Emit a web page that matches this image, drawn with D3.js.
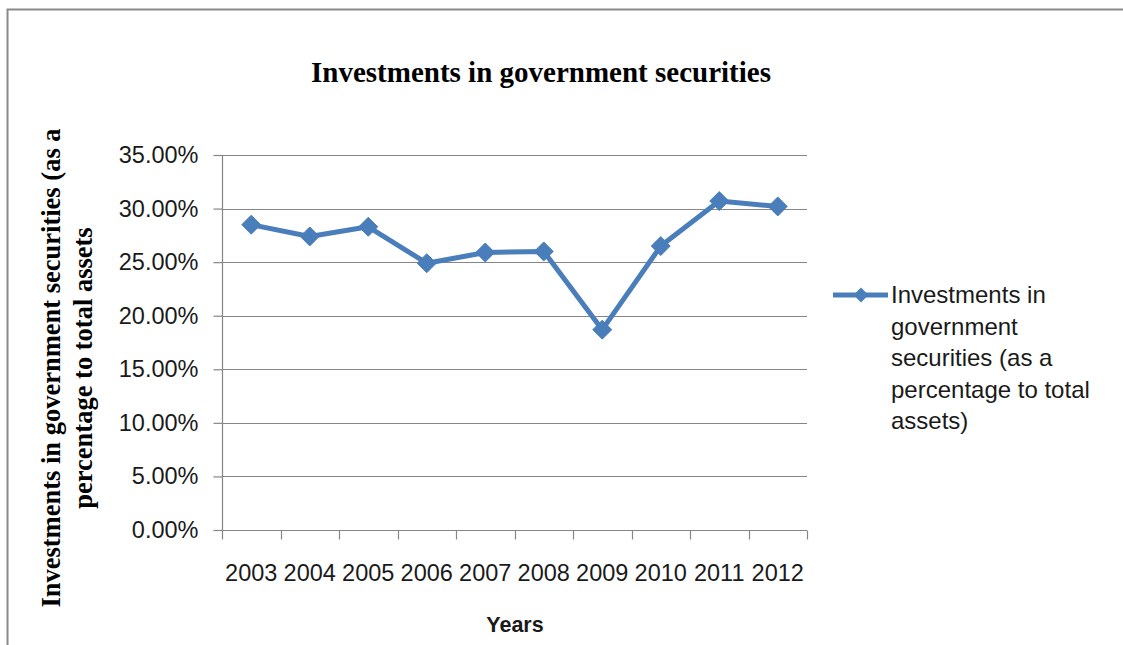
<!DOCTYPE html>
<html>
<head>
<meta charset="utf-8">
<script src="https://cdn.jsdelivr.net/npm/d3@7"></script>
<style>
  html, body { margin: 0; padding: 0; background: #fff; }
  svg { display: block; }
</style>
</head>
<body>
<svg id="chart" width="1123" height="645"></svg>
<script>
const years = ["2003","2004","2005","2006","2007","2008","2009","2010","2011","2012"];
const values = [0.285, 0.274, 0.283, 0.249, 0.259, 0.260, 0.187, 0.265, 0.307, 0.302];
const yTicks = [0, 0.05, 0.10, 0.15, 0.20, 0.25, 0.30, 0.35];
const chartTitle = "Investments in government securities";
const yTitleLines = ["Investments in government securities (as a", "percentage to total assets"];
const xTitle = "Years";
const legendLines = ["Investments in", "government", "securities (as a", "percentage to total", "assets)"];

const svg = d3.select("#chart");
const W = 1123, H = 645;
const sansFont = "'Liberation Sans', Arial, sans-serif";
const serifFont = "'Liberation Serif', 'Times New Roman', serif";
const blue = "#4A7EBB";
const gridCol = "#868686";
const txtCol = "#1a1a1a";

svg.append("rect").attr("width", W).attr("height", H).attr("fill", "#fff");
// outer border (left & top visible)
svg.append("path").attr("d", `M7.5,${H} L7.5,9.5 L${W},9.5`)
  .attr("fill", "none").attr("stroke", "#8a8a8a").attr("stroke-width", 2);

const plot = {left: 222, right: 807, top: 155, bottom: 530};
const x = d3.scaleBand().domain(years).range([plot.left, plot.right]).padding(0);
const y = d3.scaleLinear().domain([0, 0.35]).range([plot.bottom, plot.top]);

// gridlines
svg.append("g").selectAll("line").data(yTicks.filter(d => d > 0)).join("line")
  .attr("x1", plot.left).attr("x2", plot.right)
  .attr("y1", d => Math.round(y(d)) + 0.5).attr("y2", d => Math.round(y(d)) + 0.5)
  .attr("stroke", gridCol).attr("stroke-width", 1.2);

// y axis
const yAxis = svg.append("g").attr("transform", `translate(${plot.left + 0.5},0)`)
  .call(d3.axisLeft(y).tickValues(yTicks).tickFormat(d3.format(".2%")).tickSize(9).tickPadding(15));
yAxis.select(".domain").attr("stroke", gridCol).attr("stroke-width", 1.2).attr("d", `M0,${plot.top}V${plot.bottom}`);
yAxis.selectAll(".tick line").attr("stroke", gridCol).attr("stroke-width", 1.2);
yAxis.selectAll(".tick text").attr("font-family", sansFont).attr("font-size", 23.5).attr("fill", txtCol);

// x axis
const xAxisG = svg.append("g").attr("transform", `translate(0,${plot.bottom + 0.5})`);
xAxisG.append("line").attr("x1", plot.left).attr("x2", plot.right).attr("stroke", gridCol).attr("stroke-width", 1.2);
const bounds = years.map(d => x(d)).concat([plot.right]);
xAxisG.selectAll("line.tk").data(bounds).join("line").attr("class", "tk")
  .attr("x1", d => Math.round(d) + 0.5).attr("x2", d => Math.round(d) + 0.5)
  .attr("y1", 0).attr("y2", 9).attr("stroke", gridCol).attr("stroke-width", 1.2);
xAxisG.selectAll("text").data(years).join("text")
  .attr("x", d => x(d) + x.bandwidth() / 2).attr("y", 50)
  .attr("text-anchor", "middle").attr("font-family", sansFont).attr("font-size", 23.5).attr("fill", txtCol)
  .text(d => d);

// line
const line = d3.line().x((d, i) => x(years[i]) + x.bandwidth() / 2).y(d => y(d));
svg.append("path").datum(values).attr("d", line)
  .attr("fill", "none").attr("stroke", blue).attr("stroke-width", 5).attr("stroke-linejoin", "round");

const diamond = d3.symbol().type(d3.symbolDiamond2).size(230);
svg.append("g").selectAll("path").data(values).join("path")
  .attr("transform", (d, i) => `translate(${x(years[i]) + x.bandwidth() / 2},${y(d)})`)
  .attr("d", diamond).attr("fill", blue).attr("stroke", blue).attr("stroke-width", 1);

// title
svg.append("text").attr("x", 541).attr("y", 82).attr("text-anchor", "middle")
  .attr("font-family", serifFont).attr("font-weight", "bold").attr("font-size", 29).attr("fill", "#000")
  .text(chartTitle);

// y title
const yt = svg.append("text").attr("transform", "translate(0,368) rotate(-90)")
  .attr("text-anchor", "middle").attr("font-family", serifFont).attr("font-weight", "bold")
  .attr("font-size", 26.5).attr("fill", "#000");
yTitleLines.forEach((t, i) => yt.append("tspan").attr("x", 0).attr("y", 60 + i * 32).text(t));

// x title
svg.append("text").attr("x", 515).attr("y", 632).attr("text-anchor", "middle")
  .attr("font-family", sansFont).attr("font-weight", "bold").attr("font-size", 21.5).attr("fill", txtCol)
  .text(xTitle);

// legend
const lg = svg.append("g");
lg.append("line").attr("x1", 833).attr("x2", 888).attr("y1", 295).attr("y2", 295)
  .attr("stroke", blue).attr("stroke-width", 5);
lg.append("path").attr("transform", "translate(861,295)").attr("d", d3.symbol().type(d3.symbolDiamond2).size(140))
  .attr("fill", blue);
const lt = lg.append("text").attr("font-family", sansFont).attr("font-size", 24).attr("fill", txtCol);
legendLines.forEach((t, i) => lt.append("tspan").attr("x", 891).attr("y", 303 + i * 31.5).text(t));
</script>
</body>
</html>
